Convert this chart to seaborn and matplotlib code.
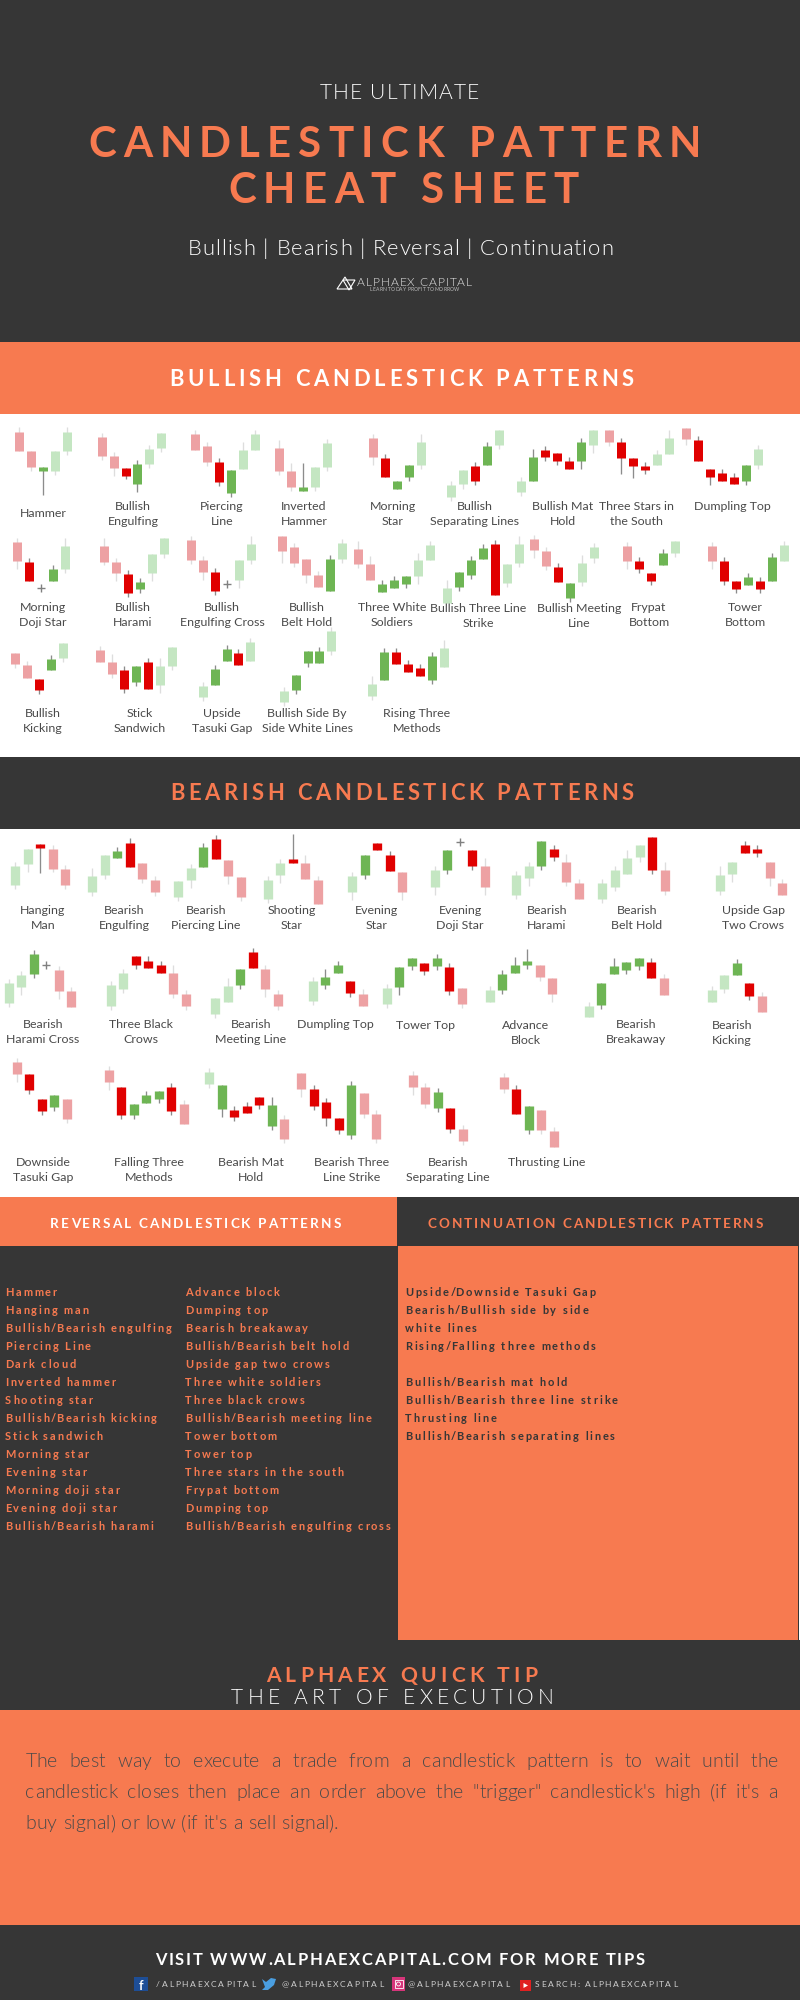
import pandas as pd
import matplotlib
matplotlib.use("Agg")
import matplotlib.pyplot as plt
from matplotlib.patches import Rectangle, Polygon, Circle
from matplotlib.text import Text
from matplotlib.transforms import Bbox
import seaborn as sns

ORANGE = "#F77A50"
DARK = "#363636"
LABEL = "#4A4A4A"

# Candle levels are read downward from the top of each white panel, 3 units to a pixel.
# kind letters: r/g faded red/green, R/G strong red/green, d doji
bullish_names = ["Hammer", "Bullish\nEngulfing", "Piercing\nLine", "Inverted\nHammer", "Morning\nStar",
                 "Bullish\nSeparating Lines", "Bullish Mat\nHold", "Three Stars in\nthe South", "Dumpling Top",
                 "Morning\nDoji Star", "Bullish\nHarami", "Bullish\nEngulfing Cross", "Bullish\nBelt Hold",
                 "Three White\nSoldiers", "Bullish Three Line\nStrike", "Bullish Meeting\nLine", "Frypat\nBottom",
                 "Tower\nBottom", "Bullish\nKicking", "Stick\nSandwich", "Upside\nTasuki Gap",
                 "Bullish Side By\nSide White Lines", "Rising Three\nMethods"]
bullish_kind = ["rrGgg", "rrRGgg", "rrRGgg", "rrGgg", "rRGGg", "ggRGg", "gGRRRGg", "rRRRgg", "rRRRRGg",
                "rRdGg", "rrRGgg", "rrRdgg", "rrrrGg", "rrGGGgg", "gGGGRgg", "rrRGgg", "rRRGg", "rRRGRGg",
                "rrRGg", "rrRGRgg", "gGGRg", "gGGGg", "gGRRRGg"]
bullish_top = [[65, 124, 172, 124, 65], [80, 139, 175, 163, 116, 68], [73, 108, 156, 180, 120, 73],
               [113, 184, 232, 172, 100], [83, 143, 214, 166, 95], [226, 179, 167, 107, 60],
               [214, 142, 119, 130, 154, 95, 60], [61, 97, 144, 168, 133, 85], [53, 89, 178, 190, 201, 166, 118],
               [395, 455, 535, 478, 407], [408, 456, 491, 515, 432, 384], [391, 450, 486, 522, 451, 403],
               [377, 412, 448, 496, 448, 400], [416, 463, 523, 511, 499, 451, 404],
               [533, 485, 449, 413, 402, 462, 403], [388, 423, 470, 518, 458, 411], [407, 453, 489, 430, 394],
               [407, 454, 513, 501, 513, 442, 406], [729, 764, 806, 746, 700],
               [721, 757, 780, 769, 757, 769, 710], [827, 778, 718, 730, 695], [842, 795, 724, 724, 664],
               [822, 727, 727, 762, 774, 739, 715]]
bullish_bottom = [[122, 170, 182, 182, 122], [138, 173, 197, 221, 161, 115], [119, 155, 215, 250, 178, 119],
                  [182, 230, 242, 230, 170], [141, 201, 237, 202, 165], [260, 223, 213, 165, 105],
                  [247, 212, 141, 153, 177, 153, 105], [96, 143, 167, 179, 166, 131],
                  [88, 153, 200, 212, 223, 212, 165],
                  [452, 512, 535, 512, 476], [455, 490, 549, 538, 490, 431], [449, 485, 544, 522, 509, 450],
                  [423, 459, 495, 530, 542, 446], [462, 510, 546, 534, 522, 498, 450],
                  [580, 532, 496, 448, 555, 518, 460], [421, 469, 517, 564, 517, 445], [452, 476, 512, 464, 428],
                  [452, 512, 536, 524, 536, 512, 452], [763, 805, 840, 781, 744],
                  [755, 791, 838, 815, 838, 826, 767], [860, 824, 753, 765, 752], [876, 841, 759, 758, 722],
                  [857, 809, 761, 785, 797, 809, 772]]
bullish_high = [[52, 124, 172, 124, 52], [68, 127, 175, 151, 104, 68], [60, 96, 144, 180, 97, 60],
                [89, 160, 160, 172, 88], [71, 131, 214, 166, 72], [214, 179, 155, 95, 60],
                [202, 118, 107, 130, 142, 83, 60], [61, 85, 144, 156, 121, 61], [53, 77, 178, 178, 189, 166, 106],
                [383, 443, 523, 466, 383], [385, 444, 479, 503, 432, 384], [379, 438, 474, 510, 451, 379],
                [377, 400, 448, 484, 436, 388], [392, 439, 511, 499, 499, 428, 392],
                [509, 485, 437, 401, 390, 462, 379], [376, 411, 458, 518, 434, 399], [395, 441, 489, 418, 394],
                [395, 442, 513, 489, 501, 430, 394], [729, 752, 806, 734, 700],
                [709, 733, 768, 769, 745, 745, 710], [815, 766, 706, 718, 683], [830, 795, 724, 712, 652],
                [798, 715, 715, 750, 762, 727, 691]]
bullish_low = [[122, 182, 255, 194, 134], [150, 197, 208, 245, 174, 127], [119, 167, 227, 262, 178, 119],
               [194, 242, 242, 242, 182], [165, 201, 237, 213, 177], [272, 236, 225, 165, 117],
               [259, 212, 153, 165, 177, 177, 129], [108, 191, 203, 191, 166, 131],
               [105, 153, 224, 212, 223, 224, 177],
               [476, 512, 547, 512, 488], [466, 514, 561, 549, 514, 443], [461, 509, 556, 534, 533, 462],
               [458, 470, 518, 530, 542, 458], [474, 510, 546, 534, 534, 522, 450],
               [580, 544, 508, 448, 555, 530, 472], [445, 481, 517, 576, 528, 458], [476, 488, 524, 464, 440],
               [476, 524, 548, 524, 548, 512, 452], [775, 805, 852, 781, 756],
               [755, 803, 850, 827, 838, 850, 779], [872, 824, 753, 765, 752], [888, 853, 770, 758, 734],
               [869, 809, 761, 785, 797, 821, 772]]

bearish_names = ["Hanging\nMan", "Bearish\nEngulfing", "Bearish\nPiercing Line", "Shooting\nStar", "Evening\nStar",
                 "Evening\nDoji Star", "Bearish\nHarami", "Bearish\nBelt Hold", "Upside Gap\nTwo Crows",
                 "Bearish\nHarami Cross", "Three Black\nCrows", "Bearish\nMeeting Line", "Dumpling Top", "Tower Top",
                 "Advance\nBlock", "Bearish\nBreakaway", "Bearish\nKicking", "Downside\nTasuki Gap",
                 "Falling Three\nMethods", "Bearish Mat\nHold", "Bearish Three\nLine Strike",
                 "Bearish\nSeparating Line", "Thrusting Line"]
bearish_kind = ["ggRrr", "ggGRrr", "ggGRrr", "ggRrr", "gGRRr", "gGdRr", "ggGRrr", "ggggRr", "ggRRrr",
                "ggGdrr", "ggRRRrr", "ggGRrr", "gGGRr", "gGGRGRr", "gGGGrr", "gGGGGRr", "ggGRr",
                "rRRGr", "rRGGGRr", "gGRRRGr", "rRRRGrr", "rrGRr", "rRGrr"]
bearish_top = [[137, 86, 72, 86, 148], [168, 105, 92, 68, 130, 180], [182, 145, 82, 56, 120, 170],
               [180, 130, 116, 130, 180], [168, 105, 68, 105, 155], [151, 89, 65, 89, 139],
               [164, 139, 64, 88, 126, 188], [188, 151, 114, 76, 51, 151], [164, 126, 76, 88, 126, 188],
               [489, 464, 401, 436, 451, 514], [496, 460, 409, 422, 434, 460, 522],
               [535, 497, 447, 397, 447, 522], [484, 472, 434, 484, 522],
               [504, 441, 415, 428, 415, 441, 503], [511, 461, 436, 424, 436, 474],
               [557, 488, 438, 426, 413, 425, 475], [510, 466, 428, 490, 527],
               [725, 763, 838, 826, 838], [751, 800, 851, 825, 813, 800, 851],
               [757, 794, 869, 857, 831, 856, 897], [758, 808, 846, 895, 796, 820, 883],
               [765, 802, 815, 865, 927], [770, 807, 857, 869, 932]]
bearish_bottom = [[195, 133, 84, 146, 195], [215, 166, 115, 140, 178, 215], [230, 180, 142, 118, 167, 230],
                  [238, 165, 128, 178, 252], [215, 165, 91, 153, 215], [200, 150, 65, 137, 200],
                  [224, 175, 137, 112, 187, 237], [237, 200, 162, 112, 149, 212], [212, 162, 100, 100, 174, 225],
                  [549, 500, 462, 436, 512, 561], [557, 508, 434, 445, 458, 521, 558],
                  [583, 545, 495, 445, 507, 558], [543, 495, 458, 520, 558],
                  [552, 502, 439, 452, 439, 514, 551], [546, 510, 459, 435, 472, 522],
                  [592, 555, 462, 450, 437, 474, 524], [545, 508, 464, 527, 576],
                  [762, 811, 874, 861, 898], [786, 886, 886, 849, 837, 874, 911],
                  [792, 867, 892, 880, 855, 917, 958], [806, 857, 894, 931, 944, 881, 957],
                  [801, 851, 864, 927, 963], [806, 881, 930, 930, 980]]
bearish_high = [[125, 86, 72, 74, 136], [143, 105, 80, 55, 130, 168], [182, 133, 70, 44, 120, 170],
                [168, 118, 42, 105, 168], [156, 105, 68, 92, 155], [139, 89, 65, 89, 115],
                [152, 127, 64, 76, 102, 176], [176, 139, 89, 76, 51, 126], [139, 126, 64, 76, 126, 176],
                [477, 452, 389, 436, 439, 502], [484, 448, 409, 409, 422, 435, 510],
                [535, 473, 447, 385, 435, 510], [472, 447, 422, 484, 508],
                [492, 441, 415, 428, 403, 429, 503], [499, 449, 411, 386, 436, 474],
                [545, 488, 413, 426, 413, 413, 463], [497, 466, 416, 490, 515],
                [713, 763, 838, 826, 838], [739, 800, 851, 813, 813, 788, 839],
                [745, 794, 857, 845, 831, 831, 885], [758, 796, 834, 895, 784, 820, 871],
                [753, 790, 803, 865, 915], [758, 795, 857, 869, 920]]
bearish_low = [[207, 157, 158, 157, 207], [227, 178, 115, 140, 190, 227], [242, 205, 142, 118, 191, 242],
               [250, 190, 128, 178, 252], [240, 178, 91, 153, 240], [224, 162, 65, 150, 224],
               [236, 199, 150, 124, 199, 237], [249, 212, 162, 125, 161, 224], [224, 187, 100, 112, 199, 225],
               [561, 524, 474, 436, 536, 561], [569, 520, 446, 445, 458, 533, 570],
               [595, 545, 508, 445, 532, 570], [555, 507, 458, 532, 558],
               [564, 526, 451, 464, 451, 526, 563], [546, 522, 459, 447, 484, 546],
               [592, 568, 462, 462, 449, 474, 524], [545, 520, 464, 539, 576],
               [786, 823, 886, 873, 910], [810, 898, 898, 849, 849, 886, 911],
               [805, 892, 904, 880, 868, 929, 970], [831, 869, 918, 943, 956, 893, 969],
               [825, 863, 876, 939, 975], [818, 881, 943, 943, 980]]

reversal_col1 = ["Hammer", "Hanging man", "Bullish/Bearish engulfing", "Piercing Line", "Dark cloud",
                 "Inverted hammer", "Shooting star", "Bullish/Bearish kicking", "Stick sandwich", "Morning star",
                 "Evening star", "Morning doji star", "Evening doji star", "Bullish/Bearish harami"]
reversal_col2 = ["Advance block", "Dumping top", "Bearish breakaway", "Bullish/Bearish belt hold",
                 "Upside gap two crows", "Three white soldiers", "Three black crows", "Bullish/Bearish meeting line",
                 "Tower bottom", "Tower top", "Three stars in the south", "Frypat bottom", "Dumping top",
                 "Bullish/Bearish engulfing cross"]
continuation_col = ["Upside/Downside Tasuki Gap", "Bearish/Bullish side by side", "white lines",
                    "Rising/Falling three methods", "", "Bullish/Bearish mat hold",
                    "Bullish/Bearish three line strike", "Thrusting line", "Bullish/Bearish separating lines"]
tip_lines = ["The best way to execute a trade from a candlestick pattern is to wait until the",
             "candlestick closes then place an order above the \"trigger\" candlestick's high (if it's a",
             "buy signal) or low (if it's a sell signal)."]

# layout, in pixels of the 800x2000 picture
bullish_x0 = [19.3, 101.7, 195, 279.3, 373.3, 451, 521, 609, 686.3,
              17.3, 104, 191, 282, 358, 447, 534, 627.3, 712,
              15.3, 100, 202.7, 283.7, 372]
bullish_label_x = [43, 133, 222, 304, 393, 475, 563, 636, 732,
                   43, 133, 222, 307, 392, 478, 579, 649, 745,
                   43, 140, 222, 307, 417]
bullish_label_y = [517, 510, 510, 510, 510, 510, 510, 510, 510,
                   611, 611, 611, 611, 611, 612, 612, 611, 611,
                   717, 717, 717, 717, 717]
bearish_x0 = [15.3, 92.3, 178.3, 267.7, 352.3, 435, 516.3, 602.3, 719.7,
              8.7, 111, 215.3, 313, 387, 490, 588.7, 711.7,
              17, 108.7, 209.3, 301.3, 412.7, 504]
bearish_label_x = [43, 124, 206, 292, 377, 460, 547, 637, 753,
                   43, 141, 251, 335, 426, 526, 636, 732,
                   43, 149, 251, 352, 448, 547]
bearish_label_y = [914] * 9 + [1028, 1028, 1028, 1028, 1029, 1029, 1028, 1029] + [1166] * 6


class TrackedText(Text):
    # letter-spaced text, still one string; span fits it between two x positions
    def __init__(self, x, y, s, span=None, tracking=0.0, words_only=False, **kw):
        super().__init__(span[0] if span else x, y, s, **kw)
        self.span = span
        self.tracking = tracking
        self.words_only = words_only

    def get_window_extent(self, renderer=None, dpi=None):
        box = super().get_window_extent(renderer, dpi)
        if self.span:
            x0 = self.get_transform().transform((self.span[0], 0))[0]
            x1 = self.get_transform().transform((self.span[1], 0))[0]
            return Bbox.from_extents(x0, box.y0, x1, box.y1)
        return Bbox.from_extents(box.x0, box.y0, box.x1 + self.tracking * len(self.get_text()), box.y1)

    def draw(self, renderer):
        s = self.get_text()
        prop = self.get_fontproperties()
        measure = lambda t: renderer.get_text_width_height_descent(t, prop, False)[0]
        base = measure("nn")
        adv = [measure("n" + ch + "n") - base for ch in s]
        # the slash leans over its neighbours, pull the next letter in
        adv = [a - 2 if ch == "/" and not self.span else a for ch, a in zip(s, adv)]
        gap = self.tracking
        if self.span is not None:
            slots = s.count(" ") if self.words_only else len(s) - 1
            gap = (self.span[1] - self.span[0] - sum(adv)) / slots
        x, y = self.get_position()
        for ch, a in zip(s, adv):
            t = Text(x, y, ch, fontproperties=prop, color=self.get_color(), ha="left", va="baseline",
                     transform=self.get_transform())
            t.set_figure(self.get_figure())
            t.draw(renderer)
            x += a + (gap if (not self.words_only or ch == " ") else 0)


def put(ax, x, y, s, px, color, span=None, tracking=0.0, weight="normal", words_only=False):
    t = TrackedText(x, y, s, span=span, tracking=tracking, words_only=words_only, fontsize=px * 0.72,
                    color=color, fontweight=weight, family="Lato", transform=ax.transData, va="baseline")
    ax.add_artist(t)


def candle_table(kinds, tops, bottoms, highs, lows, x0, step):
    rows = []
    for i, kind in enumerate(kinds):
        for j, k in enumerate(kind):
            rows.append({"candle": f"{i}-{j}", "kind": k, "x": x0[i] + j * step, "top": tops[i][j],
                         "bottom": bottoms[i][j], "high": highs[i][j], "low": lows[i][j]})
    return pd.DataFrame(rows)


def draw_panel(ax, table, width_px):
    solid = table[table["kind"] != "d"].copy()
    solid["wick"] = solid["kind"].map({"r": "pale", "g": "pale", "R": "strong", "G": "strong"})
    wicks = solid.melt(id_vars=["candle", "x", "wick"], value_vars=["high", "low"], value_name="level")
    sns.lineplot(data=wicks, x="x", y="level", units="candle", hue="wick", estimator=None, sort=False,
                 palette={"pale": "#DDDDDD", "strong": "#8C8C8C"}, linewidth=0.95, solid_capstyle="butt",
                 legend=False, ax=ax)
    bodies = solid.melt(id_vars=["candle", "x", "kind"], value_vars=["top", "bottom"], value_name="level")
    sns.lineplot(data=bodies, x="x", y="level", units="candle", hue="kind", estimator=None, sort=False,
                 palette={"r": "#EDA1A3", "g": "#C4E6C2", "R": "#E00000", "G": "#6EB554"},
                 linewidth=width_px * 0.72, solid_capstyle="butt", legend=False, ax=ax)
    dojis = table[table["kind"] == "d"]
    sns.scatterplot(data=dojis, x="x", y="top", marker="+", s=40, color="#808080", linewidth=1.0,
                    legend=False, ax=ax)


sns.set_theme(style="white")
plt.rcParams["font.family"] = ["Lato", "DejaVu Sans"]

fig = plt.figure(figsize=(8, 20), dpi=100, facecolor=DARK)
ax = fig.add_axes([0, 0, 1, 1])
ax.set_xlim(0, 800)
ax.set_ylim(2000, 0)
ax.axis("off")

# background blocks: x0, y0, x1, y1, colour
blocks = [(0, 342, 800, 414, ORANGE), (0, 414, 800, 757, "white"), (0, 829, 800, 1197, "white"),
          (0, 1197, 397, 1246, ORANGE), (398, 1246, 798, 1640, ORANGE), (799, 1197, 800, 1640, "white"),
          (0, 1710, 800, 1925, ORANGE)]
for x0, y0, x1, y1, c in blocks:
    ax.add_patch(Rectangle((x0, y0), x1 - x0, y1 - y0, facecolor=c, edgecolor="none"))

# header
put(ax, 0, 99, "THE ULTIMATE", 21, "white", span=(320, 479), weight=300)
put(ax, 0, 157, "CANDLESTICK PATTERN", 42, ORANGE, span=(88, 701), weight="bold")
put(ax, 0, 203, "CHEAT SHEET", 42, ORANGE, span=(228, 579), weight="bold")
put(ax, 0, 255, "Bullish | Bearish | Reversal | Continuation", 22, "white", span=(188, 613), weight=300)

# logo
ax.add_patch(Polygon([(337, 289), (345, 277), (352, 289)], fill=False, edgecolor="white", linewidth=0.8))
ax.add_patch(Polygon([(343, 280), (355, 280), (349, 290)], fill=False, edgecolor="white", linewidth=0.8))
put(ax, 0, 286, "ALPHAEX CAPITAL", 12, "#E8E8E8", span=(357, 472), weight=300)
put(ax, 0, 291, "LEARN TODAY PROFIT TOMORROW", 5, "#BDBDBD", span=(370, 459))

put(ax, 0, 386, "BULLISH CANDLESTICK PATTERNS", 22, "white", span=(169, 634), weight="bold")
put(ax, 0, 800, "BEARISH CANDLESTICK PATTERNS", 22, ORANGE, span=(170, 634), weight="bold")

# candle panels
ax_bull = fig.add_axes([0, (2000 - 750) / 2000, 1, 340 / 2000])
ax_bear = fig.add_axes([0, (2000 - 1200) / 2000, 1, 380 / 2000])
bull = candle_table(bullish_kind, bullish_top, bullish_bottom, bullish_high, bullish_low, bullish_x0, 11.93)
bear = candle_table(bearish_kind, bearish_top, bearish_bottom, bearish_high, bearish_low, bearish_x0, 12.47)
draw_panel(ax_bull, bull, 9)
draw_panel(ax_bear, bear, 9.3)
for a, ymax in [(ax_bull, 1020), (ax_bear, 1140)]:
    a.set_xlim(0, 800)
    a.set_ylim(ymax, 0)
    a.axis("off")

for names, xs, ys in [(bullish_names, bullish_label_x, bullish_label_y),
                      (bearish_names, bearish_label_x, bearish_label_y)]:
    for name, x, y in zip(names, xs, ys):
        for n, line in enumerate(name.split("\n")):
            ax.text(x, y + 15 * n, line, ha="center", va="baseline", fontsize=8.9, color=LABEL, family="Lato")

# reversal / continuation
put(ax, 0, 1228, "REVERSAL CANDLESTICK PATTERNS", 13.5, "white", span=(50, 341), weight="bold")
put(ax, 0, 1228, "CONTINUATION CANDLESTICK PATTERNS", 13.5, ORANGE, span=(428, 763), weight="bold")
for col, x, c in [(reversal_col1, 5, ORANGE), (reversal_col2, 185, ORANGE), (continuation_col, 405, DARK)]:
    for n, line in enumerate(col):
        if line:
            put(ax, x, 1296 + 18 * n, line, 11, c, tracking=1.9, weight="bold")

# quick tip
put(ax, 0, 1682, "ALPHAEX QUICK TIP", 21, ORANGE, span=(266, 537), weight="bold")
put(ax, 0, 1704, "THE ART OF EXECUTION", 21, "white", span=(231, 554), weight=300)
put(ax, 0, 1767, tip_lines[0], 19.5, LABEL, span=(25.5, 778), words_only=True, weight=300)
put(ax, 0, 1798, tip_lines[1], 19.5, LABEL, span=(25.5, 778), words_only=True, weight=300)
put(ax, 0, 1829, tip_lines[2], 19.5, LABEL, span=(25.5, 338), words_only=True, weight=300)

# footer
put(ax, 0, 1965, "VISIT WWW.ALPHAEXCAPITAL.COM FOR MORE TIPS", 16.5, "white", span=(155, 645), weight="bold")
put(ax, 0, 1987, "/ALPHAEXCAPITAL", 8.5, "#CFCFCF", span=(156, 255))
put(ax, 0, 1987, "@ALPHAEXCAPITAL", 8.5, "#CFCFCF", span=(282, 383))
put(ax, 0, 1987, "@ALPHAEXCAPITAL", 8.5, "#CFCFCF", span=(408, 509))
put(ax, 0, 1987, "SEARCH: ALPHAEXCAPITAL", 8.5, "#CFCFCF", span=(535, 677))

# social icons
ax.add_patch(Rectangle((134, 1977), 14, 14, facecolor="#1E4E96", edgecolor="none"))
ax.text(141, 1990, "f", ha="center", va="baseline", fontsize=9, color="white", fontweight="bold", family="Lato")
ax.add_patch(Polygon([(262, 1979), (266, 1982), (271, 1978), (276, 1979), (274, 1985), (268, 1990), (262, 1990),
                      (265, 1987)], facecolor="#4A9EE0", edgecolor="none"))
ax.add_patch(Rectangle((392, 1977), 13, 14, facecolor="#D6357A", edgecolor="none"))
ax.add_patch(Rectangle((394.5, 1980), 8, 8, fill=False, edgecolor="white", linewidth=0.6))
ax.add_patch(Circle((398.5, 1984), 2, fill=False, edgecolor="white", linewidth=0.6))
ax.add_patch(Rectangle((520, 1980), 11, 11, facecolor="#E02020", edgecolor="none"))
ax.add_patch(Polygon([(523.5, 1983), (523.5, 1988), (528, 1985.5)], facecolor="white", edgecolor="none"))

fig.savefig("out.png", dpi=100, facecolor=DARK)
